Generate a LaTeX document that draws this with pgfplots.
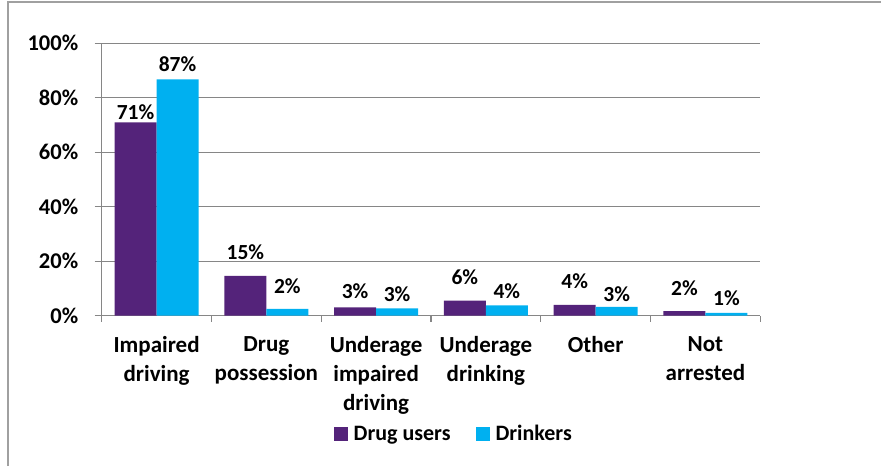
\documentclass[border=0pt]{standalone}
\usepackage{pgfplots}
\pgfplotsset{compat=1.18}
\usepackage{fontspec}
\setmainfont{Carlito}
\definecolor{druguser}{HTML}{54237A}
\definecolor{drinker}{HTML}{00B0F0}
\definecolor{gridgray}{HTML}{868686}
\definecolor{framegray}{HTML}{A0A0A0}
\begin{document}
\begin{tikzpicture}
\useasboundingbox (0,0) rectangle (881pt,466pt);
\draw[framegray, line width=2pt] (7.5pt,0pt) -- (7.5pt,463.7pt) -- (881pt,463.7pt);
\begin{axis}[
  at={(101.7pt,150.3pt)}, anchor=south west,
  scale only axis, width=658.6pt, height=272.4pt,
  ybar=0pt, bar width=42pt,
  xmin=-0.5, xmax=5.5, ymin=0, ymax=100,
  axis lines=left, axis line style={-, gridgray, line width=1.2pt},
  ymajorgrids, grid style={gridgray, line width=1.2pt},
  ytick={0,20,40,60,80,100},
  yticklabels={0\%,20\%,40\%,60\%,80\%,100\%},
  xtick={0,1,2,3,4,5},
  xticklabels={Impaired\\driving, Drug\\possession, Underage\\impaired\\driving, Underage\\drinking, Other, Not\\arrested},
  major x tick style={draw=none},
  minor xtick={-0.5,0.5,1.5,2.5,3.5,4.5,5.5},
  minor x tick style={draw=gridgray, line width=1.2pt},
  minor tick length=6pt, major tick length=7pt,
  y tick style={draw=gridgray, line width=1.2pt},
  tick align=outside,
  xticklabel style={font=\fontsize{23}{29}\selectfont\bfseries, align=center, anchor=north, yshift=-10pt},
  yticklabel style={font=\fontsize{22.5}{26}\selectfont\bfseries, xshift=-13pt},
  /pgf/number format/assume math mode=true,
  point meta=explicit,
  visualization depends on={\thisrow{dy} \as \dy},
  nodes near coords={\pgfmathprintnumber[fixed,precision=0]{\pgfplotspointmeta}\%},
  nodes near coords style={font=\fontsize{21.5}{24}\selectfont\bfseries, anchor=south, inner sep=0pt, yshift=\dy pt, text=black},
  legend style={at={(0.533,-0.434)}, anchor=center, draw=none, legend columns=2,
    font=\fontsize{22}{25}\selectfont\bfseries,
    nodes={inner sep=0pt},
    /tikz/every even column/.append style={column sep=25pt},
    /tikz/every odd column/.append style={column sep=6pt},
    inner sep=0pt},
  legend image code/.code={\fill[#1] (0pt,-7pt) rectangle (14pt,7pt);},
]
\addplot[fill=druguser, draw=none] table[x=x, y=y, meta=lab] {
x y lab dy
0 71.0 71 2
1 14.6 15 16
2 3.1 3 8
3 5.5 6 15.7
4 4.0 4 16.4
5 1.7 2 15.3
};
\addplot[fill=drinker, draw=none] table[x=x, y=y, meta=lab] {
x y lab dy
0 86.8 87 7
1 2.5 2 15
2 2.7 3 6
3 3.8 4 6
4 3.2 3 5.3
5 1.0 1 7.3
};
\legend{Drug users, Drinkers}
\end{axis}
\end{tikzpicture}
\end{document}
